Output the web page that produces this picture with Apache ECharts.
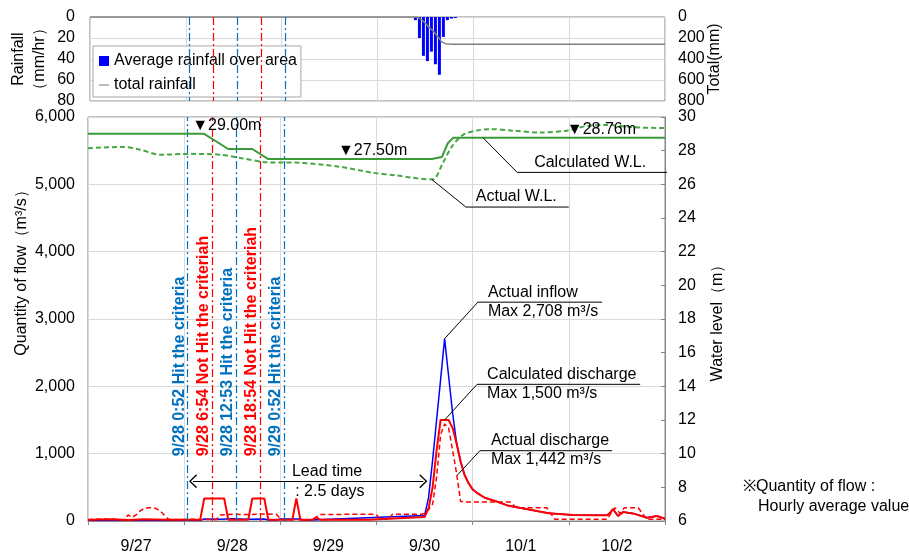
<!DOCTYPE html>
<html>
<head>
<meta charset="utf-8">
<script src="https://cdn.jsdelivr.net/npm/echarts@6/dist/echarts.min.js"></script>
<style>
  html, body { margin: 0; padding: 0; background: #fff; }
  #main { width: 909px; height: 555px; }
</style>
</head>
<body>
<div id="main"></div>
<script>
// x values are hours elapsed since 9/27 0:00
const dayLabels = ['9/27', '9/28', '9/29', '9/30', '10/1', '10/2'];

// Hourly rainfall over the area (mm/hr) and running total (mm)
const rainHours  = [81.5, 82.5, 83.5, 84.5, 85.5, 86.5, 87.5, 88.5, 89.5, 90.5, 91.5];
const rainValues = [3, 20, 37, 42, 33, 45, 55, 19, 3, 1.5, 1];
const totalHours  = [0, 81, 82, 83, 84, 85, 86, 87, 88, 89, 90, 91, 92, 144];
const totalValues = [0, 0, 3, 23, 60, 102, 135, 180, 235, 254, 257, 258.5, 259.5, 260];

// Actual inflow (m3/s)
const inflowHours  = [0, 28, 29, 33, 36, 40, 44, 45, 47, 48, 53, 54,
                      84, 85, 86, 87, 88, 89, 90, 91, 92, 93, 94, 95, 96, 97,
                      99, 102, 105, 110, 115, 121, 126, 129.5, 130.3, 131, 132.3, 133.5, 136, 139.5, 142, 144];
const inflowValues = [10, 10, 30, 25, 35, 25, 30, 15, 15, 30, 30, 10,
                      80, 350, 900, 1500, 2100, 2708, 2150, 1600, 1150, 880, 680, 560, 470, 420,
                      345, 290, 225, 170, 115, 88, 85, 84, 122, 176, 74, 132, 113, 49, 74, 34];

// Actual discharge (m3/s)
const actualQHours  = [0, 4, 8, 9, 10, 11, 12, 13, 14, 15, 16, 17, 18, 19, 20, 21,
                       26, 32, 33, 36, 40, 44, 47, 48, 49,
                       56, 57, 58, 66, 71, 72, 73, 75, 76, 83,
                       84, 85, 86, 87, 88, 89, 90, 91, 92, 93, 94,
                       105.3, 107, 114.5, 116.5, 128.5, 129.5, 131.5, 132.8, 133.8, 137.3, 139.5, 144];
const actualQValues = [20, 30, 20, 20, 90, 55, 90, 150, 185, 196, 196, 185, 150, 90, 30, 20,
                       25, 20, 90, 100, 95, 105, 100, 40, 20,
                       20, 60, 95, 100, 100, 90, 25, 25, 100, 100,
                       110, 170, 250, 650, 1280, 1442, 1380, 1050, 700, 290, 284,
                       284, 196, 196, 25, 25, 25, 196, 110, 196, 196, 25, 25];

// Calculated discharge (m3/s)
const calcQHours  = [0, 6, 10, 14, 20, 28, 29, 34, 35, 40, 41, 44, 45, 51, 52, 53, 56, 57, 58, 70,
                     84, 85, 86, 87, 88, 90, 91, 92, 93, 94, 95, 96, 97,
                     99, 102, 105, 110, 115, 121, 126, 129.5, 130.3, 131, 132.3, 133.5, 136, 139.5, 142, 144];
const calcQValues = [20, 25, 15, 25, 20, 20, 334, 334, 20, 20, 334, 334, 20, 20, 334, 20, 20, 50, 20, 20,
                     60, 190, 500, 1050, 1500, 1500, 1380, 1150, 880, 680, 560, 470, 420,
                     345, 290, 225, 170, 115, 88, 85, 84, 122, 176, 74, 132, 113, 49, 74, 34];

// Actual water level (m)
const actualWLHours  = [0, 8.7, 13, 18, 25.5, 33, 38, 44.7, 53, 63, 71, 77, 81, 86,
                        88.6, 90.8, 93.6, 97, 100.3, 106, 112.8, 119.5, 124.5, 129.5, 136, 144];
const actualWLValues = [28.15, 28.22, 28.06, 27.76, 27.81, 27.76, 27.57, 27.31, 27.28, 27.04, 26.69, 26.53, 26.39, 26.29,
                        27.29, 28.24, 28.94, 29.19, 29.28, 29.19, 29.08, 29.19, 29.47, 29.53, 29.39, 29.34];

// Calculated water level (m)
const calcWLHours  = [0, 29, 35, 41, 45, 85.8, 88.3, 89.8, 91.1, 144];
const calcWLValues = [29.0, 29.0, 28.1, 28.1, 27.5, 27.5, 27.62, 28.44, 28.76, 28.76];

// Criteria check times (9/28 0:52, 6:54, 12:53, 18:54, 9/29 0:52)
const eventHours = [24 + 52 / 60, 30 + 54 / 60, 36 + 53 / 60, 42 + 54 / 60, 48 + 52 / 60];
const eventTexts = ['9/28 0:52 Hit the criteria', '9/28 6:54 Not Hit the criteriah',
                    '9/28 12:53 Hit the criteria', '9/28 18:54 Not Hit the criteriah',
                    '9/29 0:52 Hit the criteria'];
const eventHit = [true, false, true, false, true];

// Lead time between first hit and the flood rise
const leadFrom = 26.2, leadTo = 83.7, leadLevel = 590;

const FONT = '"Liberation Sans", Arial, sans-serif';
const BLUE_EVT = '#0070c0';
const RED = '#ff0000';
const GREEN = '#3a9a3a';

const pairs = (xs, ys) => xs.map((x, i) => [x, ys[i]]);
const grey = { show: true, lineStyle: { color: '#d9d9d9', width: 1 } };
const tickText = { fontFamily: FONT, fontSize: 16, color: '#000' };
const nameText = { fontFamily: FONT, fontSize: 16, color: '#000' };
const CHEVRON = 'path://M0,10 L10,0 L20,10 L18.2,11 L10,2.6 L1.8,11 Z';
const LINE_ICON = 'path://M0,0 L20,0 L20,2 L0,2 Z';

function eventLines(yMax, labelFrom) {
  const data = [];
  eventHours.forEach((h, i) => {
    const color = eventHit[i] ? BLUE_EVT : RED;
    data.push([
      { coord: [h, 0], lineStyle: { color, width: 1.2, type: [8, 3, 2, 3] }, label: { show: false } },
      { coord: [h, yMax] }
    ]);
    if (labelFrom != null) {
      data.push([
        { coord: [h, labelFrom], lineStyle: { color: 'rgba(255,255,255,0)', width: 1, type: 'solid' },
          label: { show: true, position: 'insideStartTop', distance: 0, formatter: eventTexts[i],
                   color, fontWeight: 'bold', fontSize: 16, fontFamily: FONT, opacity: 1 } },
        { coord: [h, yMax] }
      ]);
    }
  });
  return data;
}

const chart = echarts.init(document.getElementById('main'));

const option = {
  animation: false,
  backgroundColor: '#fff',
  textStyle: { fontFamily: FONT },
  legend: {
    left: 93, top: 46, orient: 'vertical',
    backgroundColor: '#fff', borderColor: '#a6a6a6', borderWidth: 1, borderRadius: 0,
    padding: [7, 4, 4, 6], itemGap: 8, itemWidth: 10, itemHeight: 10, symbolKeepAspect: true,
    textStyle: { fontFamily: FONT, fontSize: 16, color: '#000' },
    data: [
      { name: 'Average rainfall over area', icon: 'rect' },
      { name: 'total rainfall', icon: LINE_ICON, itemStyle: { color: '#7f7f7f' } }
    ]
  },
  grid: [
    { left: 88, right: 244, top: 17, height: 84, show: true, borderColor: '#868686', borderWidth: 1 },
    { left: 88, right: 244, top: 117, height: 408, show: true, borderColor: '#868686', borderWidth: 1 }
  ],
  xAxis: [
    { gridIndex: 0, type: 'value', min: 0, max: 144, interval: 24,
      axisLabel: { show: false }, axisTick: { show: false }, axisLine: { show: false }, splitLine: grey },
    { gridIndex: 1, type: 'value', min: 0, max: 144, interval: 24,
      axisLabel: { show: false },
      axisTick: { show: true, length: 4, lineStyle: { color: '#868686' } },
      axisLine: { show: true, lineStyle: { color: '#868686' } }, splitLine: grey },
    { gridIndex: 1, type: 'category', data: dayLabels, boundaryGap: true, position: 'bottom',
      axisLine: { show: false }, axisTick: { show: false }, splitLine: { show: false },
      axisLabel: Object.assign({ margin: 18 }, tickText) }
  ],
  yAxis: [
    { gridIndex: 0, type: 'value', inverse: true, min: 0, max: 80, interval: 20,
      name: 'Rainfall\n（mm/hr）', nameLocation: 'middle', nameRotate: 90, nameGap: 40, nameMoveOverlap: false,
      nameTextStyle: Object.assign({ lineHeight: 21 }, nameText),
      axisLabel: Object.assign({ margin: 15 }, tickText),
      axisLine: { show: false }, axisTick: { show: false }, splitLine: grey },
    { gridIndex: 0, type: 'value', inverse: true, min: 0, max: 800, interval: 200, position: 'right',
      name: 'Total(mm)', nameLocation: 'middle', nameRotate: 90, nameGap: 42, nameMoveOverlap: false,
      nameTextStyle: nameText,
      axisLabel: Object.assign({ margin: 13 }, tickText),
      axisLine: { show: false }, axisTick: { show: false }, splitLine: { show: false } },
    { gridIndex: 1, type: 'value', min: 0, max: 6000, interval: 1000,
      name: 'Quantity of flow（m³/s）', nameLocation: 'middle', nameRotate: 90, nameGap: 58, nameMoveOverlap: false,
      nameTextStyle: Object.assign({ padding: [0, 0, 0, 100] }, nameText),
      axisLabel: Object.assign({ margin: 13, formatter: v => v.toLocaleString('en-US') }, tickText),
      axisLine: { show: false }, axisTick: { show: false }, splitLine: grey },
    { gridIndex: 1, type: 'value', min: 6, max: 30, interval: 2, position: 'right',
      name: 'Water level（m）', nameLocation: 'middle', nameRotate: 90, nameGap: 45, nameMoveOverlap: false,
      nameTextStyle: nameText,
      axisLabel: Object.assign({ margin: 13 }, tickText),
      axisLine: { show: true, lineStyle: { color: '#868686' } },
      axisTick: { show: true, inside: true, length: 4, lineStyle: { color: '#868686' } },
      splitLine: { show: false } }
  ],
  series: [
    { name: 'Average rainfall over area', type: 'bar', xAxisIndex: 0, yAxisIndex: 0,
      data: pairs(rainHours, rainValues), barWidth: 3, itemStyle: { color: '#0000ff' },
      markLine: { symbol: ['none', 'none'], silent: true, animation: false, data: eventLines(80, null) } },
    { name: 'total rainfall', type: 'line', xAxisIndex: 0, yAxisIndex: 1, symbol: 'none',
      data: pairs(totalHours, totalValues),
      lineStyle: { color: '#7f7f7f', width: 1.5 }, itemStyle: { color: '#7f7f7f' } },
    { name: 'Actual inflow', type: 'line', xAxisIndex: 1, yAxisIndex: 2, symbol: 'none', z: 2,
      data: pairs(inflowHours, inflowValues),
      lineStyle: { color: '#0000ff', width: 1.5 }, itemStyle: { color: '#0000ff' },
      markLine: {
        symbol: ['none', 'none'], silent: true, animation: false,
        data: eventLines(6000, 960).concat([[
          { coord: [leadFrom, leadLevel], symbol: CHEVRON, symbolSize: [14, 8],
            lineStyle: { color: '#000', width: 1, type: 'solid' }, label: { show: false } },
          { coord: [leadTo, leadLevel], symbol: CHEVRON, symbolSize: [14, 8] }
        ]])
      } },
    { name: 'Actual discharge', type: 'line', xAxisIndex: 1, yAxisIndex: 2, symbol: 'none', z: 3,
      data: pairs(actualQHours, actualQValues),
      lineStyle: { color: RED, width: 1.5, type: [5, 3] }, itemStyle: { color: RED } },
    { name: 'Calculated discharge', type: 'line', xAxisIndex: 1, yAxisIndex: 2, symbol: 'none', z: 4,
      data: pairs(calcQHours, calcQValues),
      lineStyle: { color: RED, width: 2 }, itemStyle: { color: RED } },
    { name: 'Actual W.L.', type: 'line', xAxisIndex: 1, yAxisIndex: 3, symbol: 'none', z: 4, smooth: 0.3,
      data: pairs(actualWLHours, actualWLValues),
      lineStyle: { color: '#45a845', width: 2, type: [5, 3] }, itemStyle: { color: '#45a845' } },
    { name: 'Calculated W.L.', type: 'line', xAxisIndex: 1, yAxisIndex: 3, symbol: 'none', z: 5,
      data: pairs(calcWLHours, calcWLValues),
      lineStyle: { color: GREEN, width: 2 }, itemStyle: { color: GREEN } }
  ]
};

chart.setOption(option);

// Call-outs: leader line from a point on a series to an elbow, then a shelf line with text
const peakAt = (xs, ys) => { const m = Math.max(...ys); return [xs[ys.indexOf(m)], m]; };
const fmt = v => v.toLocaleString('en-US');
const inflowPeak = peakAt(inflowHours, inflowValues);
const calcQPeak = peakAt(calcQHours, calcQValues);
const actualQPeak = peakAt(actualQHours, actualQValues);

const callouts = [
  { series: 2, anchor: inflowPeak, elbow: [97.3, 3250], endX: 128.3, dx: 10,
    lines: ['Actual inflow', 'Max ' + fmt(inflowPeak[1]) + ' m³/s'] },
  { series: 4, anchor: [89, calcQPeak[1]], elbow: [97.1, 2030], endX: 137.8, dx: 10,
    lines: ['Calculated discharge', 'Max ' + fmt(calcQPeak[1]) + ' m³/s'] },
  { series: 3, anchor: [92.1, 676], elbow: [97.8, 1044], endX: 130.8, dx: 11,
    lines: ['Actual discharge', 'Max ' + fmt(actualQPeak[1]) + ' m³/s'] },
  { series: 6, anchor: [98.6, calcWLValues[calcWLValues.length - 1]], elbow: [107.1, 26.71], endX: 144.5, dx: 17,
    lines: ['Calculated W.L.'] },
  { series: 5, anchor: [85.8, 26.29], elbow: [94.3, 24.65], endX: 120, dx: 10,
    lines: ['Actual W.L.'] }
];

// Water level marks on the calculated line
const levelMarks = [{ h: 26, idx: 0 }, { h: 62.4, idx: 4 }, { h: 119.5, idx: 8 }];

const graphics = [];
const textEl = (x, y, text, extra) => ({
  type: 'text', x, y, z: 50,
  style: Object.assign({ text, fill: '#000', font: '16px ' + FONT, align: 'left', verticalAlign: 'middle' }, extra || {})
});

callouts.forEach(c => {
  const a = chart.convertToPixel({ seriesIndex: c.series }, c.anchor);
  const e = chart.convertToPixel({ seriesIndex: c.series }, c.elbow);
  const f = chart.convertToPixel({ seriesIndex: c.series }, [c.endX, c.elbow[1]]);
  graphics.push({ type: 'polyline', z: 50, shape: { points: [a, e, f] },
                  style: { stroke: '#000', lineWidth: 1, fill: null } });
  graphics.push(textEl(e[0] + c.dx, e[1] - 10, c.lines[0]));
  if (c.lines[1]) graphics.push(textEl(e[0] + c.dx, e[1] + 9, c.lines[1]));
});

levelMarks.forEach(m => {
  const v = calcWLValues[m.idx];
  const p = chart.convertToPixel({ seriesIndex: 6 }, [m.h, v]);
  graphics.push(textEl(p[0], p[1] - 8, '▼' + v.toFixed(2) + 'm'));
});

const lt1 = chart.convertToPixel({ seriesIndex: 2 }, [50.9, 735]);
const lt2 = chart.convertToPixel({ seriesIndex: 2 }, [51.7, 441]);
graphics.push(textEl(lt1[0], lt1[1], 'Lead time'));
graphics.push(textEl(lt2[0], lt2[1], ': 2.5 days'));

graphics.push(textEl(743, 487, '※Quantity of flow :'));
graphics.push(textEl(758, 507, 'Hourly average value'));

chart.setOption({ graphic: graphics });
</script>
</body>
</html>
